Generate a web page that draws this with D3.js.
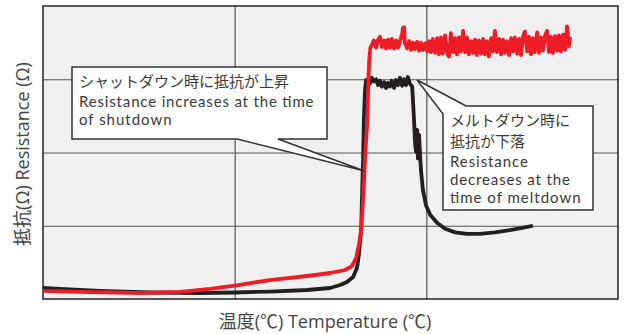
<!DOCTYPE html>
<html><head><meta charset="utf-8">
<script src="https://cdn.jsdelivr.net/npm/d3@7"></script>
<style>
html,body{margin:0;padding:0;background:#fff;}
svg{display:block;font-family:"Open Sans","Noto Sans CJK JP",sans-serif;}
.co{font-family:"Lato","Noto Sans CJK JP",sans-serif;}
</style></head>
<body>
<svg id="chart" width="624" height="334"></svg>
<script>
// Temperature (°C, arbitrary) and resistance (arbitrary units)
const xGrid = [80, 130];
const yGrid = [100, 200, 300];

const blackTemp = [30.0,34.4,44.9,57.9,71.0,80.1,89.2,98.9,104.9,107.5,109.3,110.9,111.9,112.4,113.0,113.2,113.5,113.7,114.0,
  114.3,114.8,115.3,115.8,116.3,116.9,117.4,117.9,118.4,119.0,119.5,120.0,120.5,121.0,121.6,122.1,122.6,123.1,123.7,124.2,124.7,125.2,125.7,126.3,
  126.5,126.8,127.0,127.3,127.6,127.8,128.1,128.3,128.6,129.1,129.9,131.0,132.8,134.9,137.5,140.6,144.0,147.9,151.8,155.0,157.8];
const blackRes = [15,13.7,10.9,8.9,8.2,8.9,10.2,12.3,15,19.1,23.2,30,42.3,60,94,135,190,244,285,
  299,300,294,302,297,300,292,298,290,296,288,295,290,298,288,299,292,302,291,300,292,303,294,290,
  272,244,217,201,231,192,224,203,176,149,128,115,104,96,91,89,89,91,94,97,100];

const redTemp = [30.0,39.7,55.3,65.7,73.6,80.1,89.2,98.9,104.9,108.8,110.6,111.7,112.4,113.0,113.5,114.0,114.6,114.8,115.1,115.4,
  115.8,116.3,116.9,117.4,117.9,118.4,119.0,119.5,120.0,120.5,121.0,121.6,122.1,122.6,123.1,123.7,123.9,124.2,124.4,125.0,
  125.5,126.0,126.5,127.0,127.6,128.1,128.6,129.1,129.7,130.2,130.7,131.2,131.7,132.3,132.8,133.3,133.8,134.3,134.9,135.4,
  135.9,136.4,137.0,137.5,138.0,138.5,139.0,139.6,140.1,140.6,141.1,141.7,142.2,142.7,143.2,143.7,144.3,144.8,145.3,145.8,
  146.3,146.9,147.4,147.9,148.4,149.0,149.5,150.0,150.5,151.0,151.6,152.1,152.6,153.1,153.7,154.2,154.7,155.2,155.7,156.3,
  156.8,157.3,157.8,158.3,158.9,159.4,159.9,160.4,161.0,161.5,162.0,162.5,163.0,163.6,164.1,164.6,165.1,165.7,166.2,166.7,167.2,167.5];
const redRes = [11,9.6,8.2,9.6,13.7,18.4,25.9,31.4,35.5,39.6,45,56,74,94,135,190,244,285,326,343,
  347,353,343,354,358,344,353,342,354,343,355,342,353,343,351,362,370,371,350,342,
  352,340,350,341,351,339,350,340,349,338,352,337,355,336,356,334,357,335,360,336,
  331,363,337,356,334,357,338,366,337,357,334,352,336,354,333,353,335,355,334,352,
  331,356,338,366,337,355,334,354,336,352,333,356,338,357,335,355,333,358,365,338,
  358,334,356,337,364,336,357,339,360,366,337,358,336,359,339,360,338,361,340,372,345,358];

const callout1Lines = ["シャットダウン時に抵抗が上昇","Resistance increases at the time","of shutdown"];
const callout2Lines = ["メルトダウン時に","抵抗が下落","Resistance","decreases at the","time of meltdown"];
const xLabel = "温度(℃) Temperature (℃)";
const yLabel = "抵抗(Ω) Resistance (Ω)";

const svg = d3.select("#chart");
const L = 43, R = 618, T = 6, B = 299;
const x = d3.scaleLinear().domain([30, 180]).range([L, R]);
const y = d3.scaleLinear().domain([0, 400]).range([B, T]);

svg.append("rect").attr("x", L).attr("y", T).attr("width", R - L).attr("height", B - T).attr("fill", "#f0f0f0");

const gx = svg.append("g").attr("transform", `translate(0,${B})`)
  .call(d3.axisBottom(x).tickValues(xGrid).tickSize(-(B - T)).tickFormat(""));
const gy = svg.append("g").attr("transform", `translate(${L},0)`)
  .call(d3.axisLeft(y).tickValues(yGrid).tickSize(-(R - L)).tickFormat(""));
[gx, gy].forEach(g => {
  g.select(".domain").remove();
  g.selectAll(".tick line").attr("stroke", "#555").attr("stroke-width", 1.2);
});

svg.append("rect").attr("x", L).attr("y", T).attr("width", R - L).attr("height", B - T)
  .attr("fill", "none").attr("stroke", "#222").attr("stroke-width", 1.5);

const line = d3.line().x(d => x(d[0])).y(d => y(d[1]));
const blackData = blackTemp.map((t, i) => [t, blackRes[i]]);
const redData = redTemp.map((t, i) => [t, redRes[i]]);

svg.append("path").datum(blackData).attr("d", line).attr("fill", "none")
  .attr("stroke", "#231f20").attr("stroke-width", 3.8).attr("stroke-linejoin", "round");
svg.append("path").datum(redData).attr("d", line).attr("fill", "none")
  .attr("stroke", "#ee1c25").attr("stroke-width", 3.8).attr("stroke-linejoin", "round");

const isJP = s => /[\u3040-\u30ff\u4e00-\u9fff]/.test(s);

function multiline(lines, x0, ys) {
  lines.forEach((s, i) => {
    const t = svg.append("text").attr("class", "co").attr("x", x0).attr("y", ys[i])
      .attr("fill", "#3a3a3a").attr("font-size", 15).text(s);
    if (!isJP(s)) {
      // widen Latin lines slightly to match the wider original typeface
      const w = t.node().getComputedTextLength();
      t.attr("textLength", w * 1.12).attr("lengthAdjust", "spacing");
    }
  });
}

// callout 1
const tip1 = [x(113.7), y(175)];
svg.append("path")
  .attr("d", `M72,67 H327 V139 H278 L${tip1[0]},${tip1[1]} L237,139 H72 Z`)
  .attr("fill", "#fff").attr("stroke", "#333").attr("stroke-width", 1.5);
multiline(callout1Lines, 79, [87, 107, 125]);

// callout 2
const tip2 = [x(127.6), y(299)];
svg.append("path")
  .attr("d", `M466,106 H593 V210 H443 V114 L${tip2[0]},${tip2[1]} Z`)
  .attr("fill", "#fff").attr("stroke", "#333").attr("stroke-width", 1.5);
multiline(callout2Lines, 450, [126, 147, 167, 185, 203]);

// axis labels
svg.append("text").attr("x", 325).attr("y", 328).attr("text-anchor", "middle")
  .attr("font-size", 18).attr("fill", "#444").text(xLabel);
svg.append("text").attr("transform", "translate(29,154) rotate(-90)").attr("text-anchor", "middle")
  .attr("font-size", 18).attr("fill", "#444").text(yLabel);
</script>
</body></html>
